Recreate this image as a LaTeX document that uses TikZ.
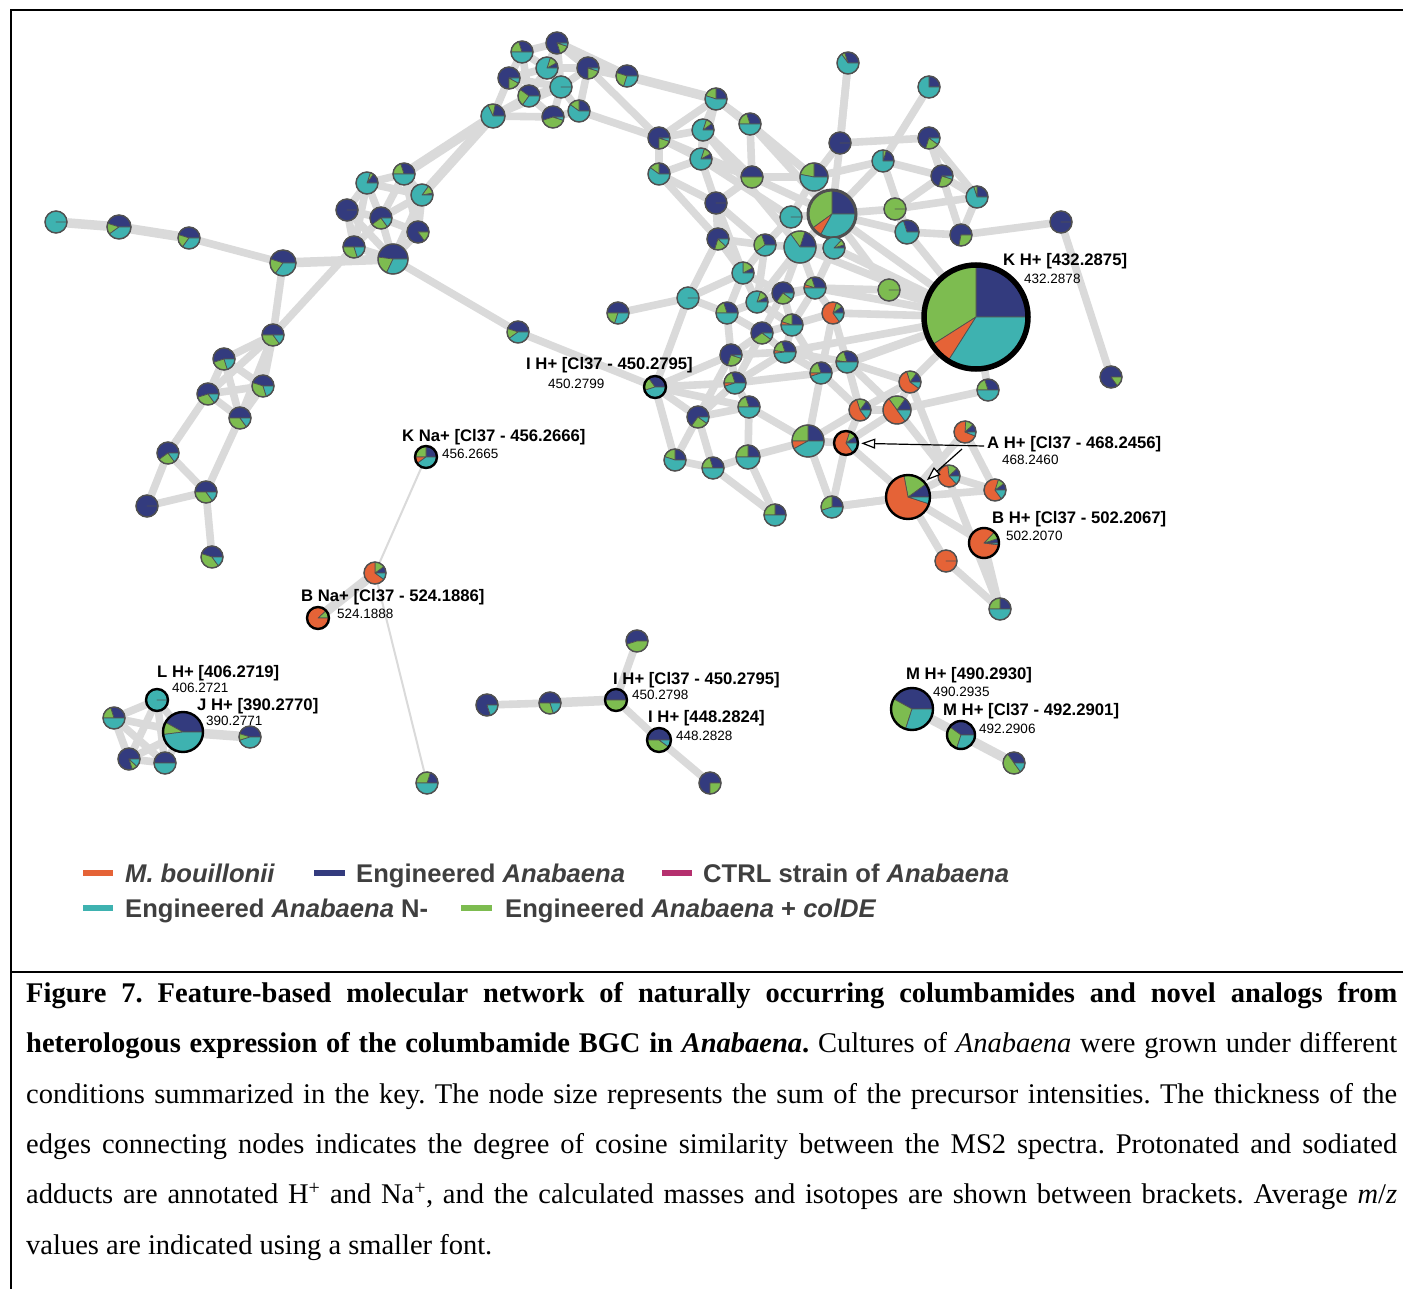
\documentclass[tikz,border=0pt]{standalone}
\usepackage{fontspec}
\setmainfont{Liberation Serif}
\newfontfamily\lab{Liberation Sans}
\usetikzlibrary{arrows.meta}
\pgfdeclarelayer{back}
\pgfdeclarelayer{bg}
\pgfsetlayers{back,bg,main}
\definecolor{cB}{HTML}{333B7E}
\definecolor{cG}{HTML}{7DBC50}
\definecolor{cO}{HTML}{E56337}
\definecolor{cT}{HTML}{3EB2B0}
\definecolor{cM}{HTML}{B5306E}
\definecolor{edgecol}{HTML}{DADADA}
\definecolor{rim}{HTML}{505050}
\definecolor{legtext}{HTML}{3F3F3F}
\newcommand\slc[6]{%
  \ifdim #3pt>#2pt
    \fill[#1, draw=rim, line width=0.7pt, line join=round] (#4,#5) -- ++(#2:#6pt) arc[start angle=#2, end angle=#3, radius=#6pt] -- cycle;
  \fi}
\newcommand\pie[8][rimN]{%
  \pgfmathsetmacro\pa{#6*3.6}%
  \pgfmathsetmacro\pb{\pa+#7*3.6}%
  \pgfmathsetmacro\pc{\pb+#8*3.6}%
  \slc{cB}{0}{\pa}{#3}{#4}{#5}%
  \slc{cG}{\pa}{\pb}{#3}{#4}{#5}%
  \slc{cO}{\pb}{\pc}{#3}{#4}{#5}%
  \slc{cT}{\pc}{360}{#3}{#4}{#5}%
  \draw[#1] (#3,#4) circle[radius=#5pt];
  \node[circle, inner sep=0pt, minimum size=#5pt*2] (#2) at (#3,#4) {};
}
\tikzset{
  rimN/.style={draw=rim, line width=1.4pt},
  rimH/.style={draw=black, line width=2.4pt},
  rimM/.style={draw=rim, line width=3pt},
  rimK/.style={draw=black, line width=5.5pt},
  edg/.style={draw=edgecol, line width=7.6pt},
  edgthick/.style={draw=edgecol, line width=9.5pt},
  edgmid/.style={draw=edgecol, line width=5pt},
  edghair/.style={draw=edgecol, line width=2pt},
  lbl/.style={anchor=base west, inner sep=0pt, font=\lab\bfseries\fontsize{16.7}{18}\selectfont},
  mz/.style={anchor=base west, inner sep=0pt, font=\lab\fontsize{13.5}{15}\selectfont},
  leg/.style={anchor=base west, inner sep=0pt, text=legtext, font=\lab\bfseries\fontsize{25.6}{28}\selectfont},
  arr/.style={draw=black, line width=1.2pt, -{Triangle[fill=white, length=14pt, width=10pt]}, shorten >=3pt},
}
\begin{document}
\begin{tikzpicture}[x=1pt, y=-1pt]
\useasboundingbox (0,0) rectangle (1403,1289);
\begin{pgfonlayer}{back}
\fill[white] (0,0) rectangle (1403,1289);
\end{pgfonlayer}
% frame
\draw[line width=2.5pt] (11,1289) -- (11,10) -- (1403,10);
\draw[line width=2.5pt] (11,972) -- (1403,972);

% ---- top group
\pie{t1}{522}{52}{11}{30}{20}{0}
\pie{t2}{557}{43}{11}{80}{15}{0}
\pie{t3}{547}{68}{11}{8}{12}{0}
\pie{t4}{509}{78}{11}{75}{17}{0}
\pie{t5}{588}{68}{11}{75}{20}{0}
\pie{t6}{561}{87}{11}{0}{0}{0}
\pie{t7}{529}{96}{11}{40}{25}{0}
\pie{t8}{493}{116}{12}{22}{10}{0}
\pie{t9}{553}{117}{11}{55}{40}{0}
\pie{t10}{579}{111}{11}{25}{15}{0}
\pie{t11}{627}{76}{11}{45}{25}{0}
% ---- left
\pie{l1}{56}{222}{11}{0}{0}{0}
\pie{l2}{119}{227}{12}{45}{15}{0}
\pie{l3}{189}{238}{11}{45}{20}{0}
\pie{l4}{283}{263}{13}{45}{20}{0}
\pie{l5}{367}{183}{11}{15}{5}{0}
\pie{l6}{404}{174}{11}{30}{20}{0}
\pie{l7}{422}{195}{11}{3}{12}{0}
\pie{l8}{347}{210}{11}{100}{0}{0}
\pie{l9}{381}{218}{11}{60}{25}{0}
\pie{l10}{418}{232}{11}{85}{15}{0}
\pie{l11}{354}{247}{11}{50}{30}{0}
\pie{l12}{393}{259}{15}{48}{20}{0}
\pie{l13}{273}{335}{11}{50}{35}{0}
\pie{l14}{224}{359}{11}{55}{25}{0}
\pie{l15}{263}{386}{11}{45}{35}{0}
\pie{l16}{208}{394}{11}{55}{30}{0}
\pie{l17}{240}{418}{11}{50}{35}{0}
\pie{l18}{168}{453}{11}{60}{25}{0}
\pie{l19}{206}{492}{11}{50}{35}{0}
\pie{l20}{147}{506}{11}{100}{0}{0}
\pie{l21}{212}{557}{11}{45}{40}{0}
% ---- middle
\pie{m1}{716}{99}{11}{25}{20}{0}
\pie{m2}{750}{124}{11}{30}{20}{0}
\pie{m3}{659}{138}{11}{75}{20}{0}
\pie{m4}{703}{130}{11}{10}{10}{0}
\pie{m5}{701}{159}{11}{8}{12}{0}
\pie{m6}{659}{174}{11}{25}{15}{0}
\pie{m7}{752}{177}{11}{50}{50}{0}
\pie{m8}{716}{203}{11}{100}{0}{0}
\pie{m9}{718}{239}{11}{70}{18}{0}
\pie{m10}{765}{245}{11}{30}{30}{0}
\pie{m11}{743}{273}{11}{8}{17}{0}
\pie{m12}{840}{143}{11}{100}{0}{0}
\pie{m13}{814}{177}{14}{25}{22}{0}
\pie[rimM]{m14}{832}{214}{24}{25}{35}{7}
\pie{m15}{791}{217}{11}{0}{0}{0}
\pie{m16}{800}{247}{16}{20}{15}{0}
\pie{m17}{834}{248}{11}{5}{8}{0}
\pie{m18}{688}{298}{11}{0}{0}{0}
\pie{m19}{618}{313}{11}{50}{20}{0}
\pie{m20}{727}{313}{11}{30}{20}{0}
\pie{m21}{757}{302}{11}{8}{12}{0}
\pie{m22}{783}{293}{11}{65}{25}{0}
\pie{m23}{815}{288}{11}{30}{15}{5}
\pie{m24}{833}{313}{11}{10}{10}{65}
\pie{m25}{792}{325}{11}{25}{20}{5}
\pie{m26}{762}{333}{11}{60}{30}{0}
\pie{m27}{785}{352}{11}{30}{18}{4}
\pie{m28}{731}{355}{11}{70}{25}{0}
\pie{m29}{821}{373}{11}{30}{20}{5}
\pie{m30}{847}{362}{11}{30}{18}{2}
\pie{m31}{735}{383}{11}{30}{20}{5}
\pie{m32}{749}{407}{11}{30}{20}{0}
\pie{m33}{698}{417}{11}{65}{25}{0}
\pie[rimH]{m34}{655}{387}{11}{35}{20}{0}
\pie{m35}{518}{332}{11}{45}{15}{0}
\pie{m36}{675}{460}{11}{25}{20}{0}
\pie{m37}{713}{468}{11}{30}{20}{0}
\pie{m38}{748}{457}{12}{25}{25}{0}
\pie{m39}{808}{441}{16}{25}{25}{8}
\pie{m40}{775}{515}{11}{25}{25}{0}
\pie{m41}{832}{507}{11}{25}{30}{0}
% ---- right
\pie{r1}{848}{63}{11}{30}{5}{0}
\pie{r2}{929}{87}{11}{25}{0}{0}
\pie{r3}{929}{138}{11}{70}{20}{0}
\pie{r4}{883}{161}{11}{20}{5}{0}
\pie{r5}{942}{176}{11}{70}{25}{0}
\pie{r6}{977}{197}{11}{25}{5}{0}
\pie{r7}{895}{209}{11}{0}{100}{0}
\pie{r8}{907}{232}{12}{30}{0}{0}
\pie{r9}{961}{235}{11}{72}{28}{0}
\pie{r10}{1061}{222}{11}{100}{0}{0}
\pie{r11}{889}{290}{11}{0}{100}{0}
\pie[rimK]{r12}{976}{317}{52}{25}{34}{7}
\pie{r13}{1111}{377}{11}{85}{15}{0}
\pie{r14}{910}{382}{11}{15}{15}{60}
\pie{r15}{988}{390}{11}{30}{20}{0}
\pie{r16}{860}{410}{11}{15}{15}{55}
\pie{r17}{897}{410}{14}{15}{20}{50}
\pie{r18}{965}{432}{11}{12}{12}{70}
\pie[rimH]{r19}{846}{443}{12}{10}{10}{65}
\pie[rimH]{r20}{908}{497}{22}{10}{18}{67}
\pie{r21}{949}{476}{11}{12}{15}{60}
\pie{r22}{995}{490}{11}{10}{10}{65}
\pie[rimH]{r23}{984}{543}{15}{5}{8}{85}
\pie{r24}{946}{561}{11}{0}{0}{100}
\pie{r25}{1000}{609}{11}{25}{25}{0}
% ---- separate groups
\pie[rimH]{k1}{426}{457}{11}{25}{25}{10}
\pie{k2}{375}{573}{11}{10}{15}{65}
\pie[rimH]{k3}{318}{618}{11}{0}{12}{88}
\pie{k4}{427}{783}{11}{20}{30}{0}
\pie[rimH]{j1}{157}{700}{11}{0}{0}{0}
\pie{j2}{114}{718}{11}{30}{20}{0}
\pie[rimH]{j3}{183}{732}{20}{42}{10}{0}
\pie{j4}{250}{737}{11}{45}{10}{0}
\pie{j5}{129}{759}{11}{80}{8}{0}
\pie{j6}{165}{763}{11}{50}{0}{0}
\pie{i1}{637}{641}{11}{55}{45}{0}
\pie{i2}{487}{705}{11}{80}{0}{0}
\pie{i3}{550}{703}{11}{50}{30}{0}
\pie[rimH]{i4}{616}{700}{11}{50}{50}{0}
\pie[rimH]{i5}{659}{740}{12}{50}{40}{0}
\pie{i6}{710}{783}{11}{75}{25}{0}
\pie[rimH]{n1}{912}{709}{21}{42}{28}{0}
\pie[rimH]{n2}{961}{735}{14}{40}{30}{0}
\pie{n3}{1014}{763}{11}{35}{50}{0}

% ---- edges
\begin{pgfonlayer}{bg}
\foreach \a/\b in {l1/l2, l2/l3, l4/l12, l6/t8, l7/t8, t5/t11, t2/t11, k2/k3, j3/j4, i3/i4, n1/n2, n2/n3, t11/m1}
  \draw[edgthick] (\a) -- (\b);
\foreach \a/\b in {k1/k2, k2/k4}
  \draw[edghair] (\a) -- (\b);
\foreach \a/\b in {
  t1/t2, t1/t3, t1/t4, t1/t7, t2/t3, t2/t5, t3/t4, t3/t5, t3/t6, t3/t7, t4/t7, t4/t8,
  t5/t6, t6/t7, t6/t9, t6/t10, t7/t8, t7/t9, t8/t9, t9/t10, t5/t10, t4/t6, t2/t6, t8/t6,
  t5/m3, t10/m3,
  l3/l4, l4/l13, l13/l11, l12/m35,
  l5/l6, l5/l8, l5/l9, l5/l7, l6/l7, l6/l9, l7/l9, l7/l10, l8/l9, l8/l11, l9/l10, l9/l11,
  l9/l12, l10/l12, l11/l12, l7/l12, l6/l10, l8/l12, l5/l11,
  l13/l14, l13/l15, l13/l16, l13/l17, l14/l15, l14/l16, l14/l17, l15/l16, l15/l17, l16/l17,
  l16/l18, l17/l19, l18/l19, l18/l20, l20/l19, l19/l21,
  m1/m2, m1/m4, m1/m3, m1/m13, m1/m5, m2/m7, m2/m13, m2/m14,
  m3/m4, m3/m5, m3/m6, m3/m7, m4/m5, m4/m7, m4/m16, m5/m6, m5/m7, m5/m8, m5/m15,
  m6/m8, m6/m9, m7/m13, m7/m8, m7/m14, m8/m9, m8/m10, m8/m11,
  m9/m10, m9/m11, m9/m18, m10/m16, m10/m11, m10/m15, m10/m21,
  m11/m18, m11/m21, m11/m22, m11/m20, m12/m13, m12/r1, m12/r3, m12/m14,
  m13/m14, m13/m15, m13/r4, m14/m15, m14/m16, m14/m17, m14/r12, m14/r4, m14/r7, m14/r8, m14/r11,
  m16/m17, m16/m22, m16/m21, m16/r12, m17/r12, m17/m23, m16/m23,
  m18/m19, m18/m20, m18/m34, m20/m21, m20/m26, m20/m28, m20/m22,
  m21/m22, m21/m25, m21/m23, m22/m23, m22/m25, m22/m26,
  m23/m24, m23/m25, m23/r12, m23/r11, m24/m25, m24/r12, m24/m30, m24/m29,
  m25/m26, m25/m27, m25/m29, m26/m27, m26/m28, m26/m31,
  m27/m28, m27/m29, m27/m31, m27/m30, m27/r12, m28/m31, m28/m34, m28/m33,
  m29/m30, m29/m31, m29/m39, m29/r16, m29/r12, m30/r12, m30/r14, m30/r16, m30/r17,
  m31/m32, m31/m33, m31/m34, m32/m33, m32/m38, m32/m34, m32/m39,
  m33/m34, m33/m36, m33/m37, m34/m35, m34/m36, m36/m37, m37/m38,
  m38/m39, m38/m40, m39/r19, m39/m41, m40/m37, m41/r19, m41/r20,
  r11/r12, r8/r12, r8/r9, r8/r4, r9/r6, r9/r10, r9/r5, r5/r6, r3/r5, r4/r5, r2/r4,
  r7/r6, r7/r8, r7/r5, r3/r6, r1/m12, r10/r13, r14/r12,
  r14/r17, r14/r16, r15/r17, r16/r17, r16/r19, r16/m39, r17/r21, r17/r19,
  r18/r20, r14/r25, r18/r22, r19/r20, r20/r21, r20/r22, r20/r24, r20/r23, r20/m41,
  r21/r22, r24/r25, r23/r25, r15/r12,
  j1/j2, j1/j3, j1/j5, j1/j6, j2/j3, j2/j5, j2/j6, j3/j5, j3/j6, j5/j6,
  i1/i4, i2/i3, i4/i5, i5/i6}
  \draw[edg] (\a) -- (\b);
\end{pgfonlayer}

% ---- labels
\node[lbl] (lbK) at (1003,266) {K H+ [432.2875]};
\node[mz] (mzK) at (1024,284) {432.2878};
\node[lbl] (lbI) at (526,369) {I H+ [Cl37 - 450.2795]};
\node[mz] (mzI) at (548,388) {450.2799};
\node[lbl] (lbKN) at (402,441) {K Na+ [Cl37 - 456.2666]};
\node[mz] (mzKN) at (442,458) {456.2665};
\node[lbl] (lbA) at (987,448) {A H+ [Cl37 - 468.2456]};
\node[mz] (mzA) at (1002,464) {468.2460};
\node[lbl] (lbB) at (992,523) {B H+ [Cl37 - 502.2067]};
\node[mz] (mzB) at (1006,540) {502.2070};
\node[lbl] (lbBN) at (301,601) {B Na+ [Cl37 - 524.1886]};
\node[mz] (mzBN) at (337,618) {524.1888};
\node[lbl] (lbL) at (157,677) {L H+ [406.2719]};
\node[mz] (mzL) at (172,692) {406.2721};
\node[lbl] (lbJ) at (197,710) {J H+ [390.2770]};
\node[mz] (mzJ) at (206,725) {390.2771};
\node[lbl] (lbI2) at (613,684) {I H+ [Cl37 - 450.2795]};
\node[mz] (mzI2) at (632,699) {450.2798};
\node[lbl] (lbI3) at (648,722) {I H+ [448.2824]};
\node[mz] (mzI3) at (676,740) {448.2828};
\node[lbl] (lbM) at (906,679) {M H+ [490.2930]};
\node[mz] (mzM) at (933,696) {490.2935};
\node[lbl] (lbM2) at (943,715) {M H+ [Cl37 - 492.2901]};
\node[mz] (mzM2) at (979,733) {492.2906};

% ---- arrows
\coordinate (aS1) at (984,446);
\coordinate (aS2) at (962,449);
\draw[arr] (aS1) -- (r19);
\draw[arr] (aS2) -- (r20);

% ---- legend
\fill[cO] (83,870) rectangle (113,876);
\node[leg] (lg1) at (125,882) {\itshape M. bouillonii};
\fill[cB] (314,870) rectangle (345,876);
\node[leg] (lg2) at (356,882) {Engineered \textit{Anabaena}};
\fill[cM] (662,870) rectangle (692,876);
\node[leg] (lg3) at (703,882) {CTRL strain of \textit{Anabaena}};
\fill[cT] (83,905) rectangle (113,911);
\node[leg] (lg4) at (125,917) {Engineered \textit{Anabaena} N-};
\fill[cG] (461,905) rectangle (492,911);
\node[leg] (lg5) at (505,917) {Engineered \textit{Anabaena} + \textit{colDE}};

% ---- caption
\node[anchor=north west, inner sep=0pt, text width=1371pt, align=justify,
      font=\fontsize{28.5}{50.4}\selectfont] (cap) at (26,982) {\frenchspacing
{\bfseries Figure 7. Feature-based molecular network of naturally occurring columbamides and novel analogs from\linebreak heterologous expression of the columbamide BGC in \textit{Anabaena}.} Cultures of \textit{Anabaena} were grown under different\linebreak conditions summarized in the key. The node size represents the sum of the precursor intensities. The thickness of the\linebreak edges connecting nodes indicates the degree of cosine similarity between the MS2 spectra. Protonated and sodiated\linebreak adducts are annotated H\textsuperscript{+} and Na\textsuperscript{+}, and the calculated masses and isotopes are shown between brackets. Average \textit{m}/\textit{z}\linebreak values are indicated using a smaller font.};
\end{tikzpicture}
\end{document}
